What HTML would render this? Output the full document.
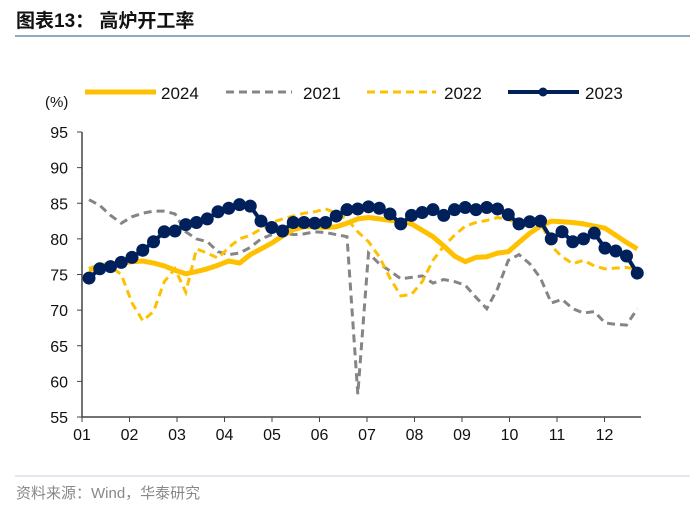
<!DOCTYPE html>
<html><head><meta charset="utf-8"><style>
body{margin:0;background:#fff;width:700px;height:510px;overflow:hidden;font-family:"Liberation Sans","Noto Sans CJK SC",sans-serif;}
</style></head><body>
<svg width="700" height="510" xmlns="http://www.w3.org/2000/svg" style="font-family:'Liberation Sans','Noto Sans CJK SC',sans-serif">
<text x="16" y="27" font-size="19" font-weight="bold" fill="#111">图表13：  高炉开工率</text>
<line x1="15" y1="36" x2="690" y2="36" stroke="#8fa9c6" stroke-width="2"/>
<g font-size="17" fill="#111">
<g><line x1="85" y1="92" x2="156" y2="92" stroke="#FFC000" stroke-width="5"/><text x="161" y="99">2024</text></g>
<g><line x1="226" y1="92" x2="292" y2="92" stroke="#858585" stroke-width="3" stroke-dasharray="8,5"/><text x="303" y="99">2021</text></g>
<g><line x1="367" y1="92" x2="436" y2="92" stroke="#FFC000" stroke-width="3" stroke-dasharray="8,5"/><text x="444" y="99">2022</text></g>
<g><line x1="508" y1="92" x2="579" y2="92" stroke="#00205B" stroke-width="4"/><circle cx="543" cy="92" r="4.5" fill="#00205B"/><text x="585" y="99">2023</text></g>
</g>
<text x="45" y="107" font-size="15" fill="#111">(%)</text>
<g id="axes"></g>
<g id="series"></g>
<line x1="15" y1="476" x2="690" y2="476" stroke="#c8d3e0" stroke-width="1"/>
<text x="16" y="498" font-size="15" fill="#888">资料来源：Wind，华泰研究</text>
</svg>
<script>
const months=["01","02","03","04","05","06","07","08","09","10","11","12"];
const yTicks=[55,60,65,70,75,80,85,90,95];
const s2024=[75.7,76.2,76.5,76.6,76.8,76.9,76.6,76.2,75.6,75.1,75.4,75.8,76.3,76.9,76.6,77.8,78.6,79.4,80.4,81.3,81.7,81.7,81.6,81.7,82.2,82.8,83.0,82.8,82.6,82.5,82.1,81.2,80.3,79.0,77.6,76.8,77.4,77.5,78.0,78.2,79.5,80.8,81.8,82.5,82.4,82.3,82.1,81.8,81.5,80.5,79.5,78.6];
const s2021=[85.5,84.7,83.3,82.2,83.1,83.6,83.9,83.9,83.5,81,80,79.6,78.2,77.8,78,78.8,80,80.6,80.9,80.6,80.7,81,80.9,80.6,80.3,58.2,78,76.5,75.5,74.4,74.6,74.8,73.8,74.3,74,73.5,71.8,70.2,73,77,77.8,76.5,74.5,71,71.5,70.2,69.6,69.8,68.2,68,67.9,70.2];
const s2022=[75.5,75.9,76.1,75,71,68.5,69.8,74,75.8,72.5,78.6,78,77.3,78.8,80,80.5,81.4,82.3,82.8,83.2,83.6,83.8,84.2,83.6,82.8,81,79.6,77.5,74.5,72,72.2,74,77,79,80.5,81.8,82.3,82.6,83,82.7,82.2,82.3,82.4,79,77.5,76.5,77,76.2,75.8,75.9,76,75.7];
const s2023=[74.5,75.8,76.1,76.7,77.4,78.4,79.6,81,81.1,82,82.3,82.8,83.8,84.3,84.8,84.6,82.5,81.6,81.1,82.3,82.3,82.2,82.3,83.2,84.1,84.2,84.5,84.3,83.5,82.1,83.3,83.7,84.1,83.3,84.1,84.4,84.1,84.4,84.2,83.4,82.1,82.4,82.5,80,81,79.6,80,80.8,78.7,78.3,77.6,75.2];
const NS="http://www.w3.org/2000/svg";
const X0=82,X1=641,Y0=417,Y1=132;
function y(v){return Y0-(v-55)/(95-55)*(Y0-Y1);}
function xw(i){return 89+i*10.75;}
function xm(i){return 82+i*47.5;}
function mk(t,a,p){const e=document.createElementNS(NS,t);for(const k in a)e.setAttribute(k,a[k]);p.appendChild(e);return e;}
const ax=document.getElementById('axes');
const yl=mk('line',{x1:X0,y1:Y1,x2:X0,y2:Y0,stroke:'#444','stroke-width':1.5},ax);


const xl=mk('line',{x1:X0,y1:Y0,x2:X1,y2:Y0,stroke:'#444','stroke-width':1.5},ax);


yTicks.forEach(v=>{
 mk('line',{x1:X0-5,y1:y(v),x2:X0,y2:y(v),stroke:'#444'},ax);
 const t=mk('text',{x:X0-14,y:y(v)+6,'text-anchor':'end','font-size':16,fill:'#111'},ax);
 t.textContent=v;
 
 
});
months.forEach((m,i)=>{
 mk('line',{x1:xm(i),y1:Y0,x2:xm(i),y2:Y0+5,stroke:'#444'},ax);
 const t=mk('text',{x:xm(i),y:Y0+23,'text-anchor':'middle','font-size':16,fill:'#111'},ax);
 t.textContent=m;
 
 
});
const sg=document.getElementById('series');
function pts(a){return a.map((v,i)=>xw(i).toFixed(1)+','+y(v).toFixed(1)).join(' ');}
const l21=mk('polyline',{points:pts(s2021),fill:'none',stroke:'#858585','stroke-width':3,'stroke-dasharray':'8,5'},sg);


const l22=mk('polyline',{points:pts(s2022),fill:'none',stroke:'#FFC000','stroke-width':3,'stroke-dasharray':'8,5'},sg);


const l24=mk('polyline',{points:pts(s2024),fill:'none',stroke:'#FFC000','stroke-width':5,'stroke-linejoin':'round'},sg);


const l23=mk('polyline',{points:pts(s2023),fill:'none',stroke:'#00205B','stroke-width':4,'stroke-linejoin':'round'},sg);


s2023.forEach((v,i)=>{
 const c=mk('circle',{cx:xw(i),cy:y(v),r:6.5,fill:'#00205B'},sg);
 
 
});
</script>
</body></html>
